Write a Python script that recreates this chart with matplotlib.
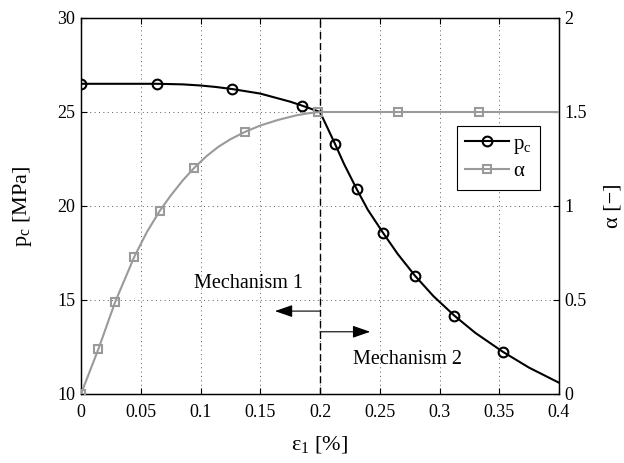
import matplotlib
matplotlib.use("Agg")
import matplotlib.pyplot as plt
from matplotlib.lines import Line2D

plt.rcParams['font.family'] = ['Liberation Serif', 'DejaVu Serif']
plt.rcParams['mathtext.fontset'] = 'custom'
plt.rcParams['mathtext.rm'] = 'Liberation Serif'

# p_c curve
pc_curve_x = [0.0, 0.025, 0.05, 0.064, 0.085, 0.1, 0.113, 0.1266, 0.15, 0.175, 0.185, 0.2,
              0.2063, 0.2126, 0.22, 0.2307, 0.24, 0.253, 0.265, 0.2795, 0.295, 0.3124,
              0.33, 0.3529, 0.375, 0.4]
pc_curve_y = [26.5, 26.5, 26.5, 26.5, 26.47, 26.41, 26.33, 26.22, 25.98, 25.55, 25.34, 25.0,
              24.15, 23.3, 22.25, 20.9, 19.8, 18.55, 17.45, 16.29, 15.2, 14.17,
              13.25, 12.25, 11.4, 10.6]
# p_c markers
pc_mark_x = [0.0, 0.064, 0.1266, 0.185, 0.2126, 0.2307, 0.253, 0.2795, 0.3124, 0.3529]
pc_mark_y = [26.5, 26.5, 26.22, 25.34, 23.31, 20.90, 18.55, 16.29, 14.17, 12.25]

# alpha curve
al_curve_x = [0.0, 0.0145, 0.0285, 0.0446, 0.055, 0.0658, 0.075, 0.085, 0.0946, 0.105,
              0.115, 0.125, 0.1375, 0.15, 0.165, 0.18, 0.19, 0.2, 0.265, 0.333, 0.4]
al_curve_y = [0.0, 0.238, 0.488, 0.730, 0.86, 0.973, 1.055, 1.135, 1.202, 1.265,
              1.315, 1.355, 1.395, 1.428, 1.458, 1.482, 1.493, 1.5, 1.5, 1.5, 1.5]
# alpha markers
al_mark_x = [0.0, 0.0145, 0.0285, 0.0446, 0.0658, 0.0946, 0.1375, 0.1986, 0.265, 0.333]
al_mark_y = [0.0, 0.238, 0.488, 0.730, 0.973, 1.202, 1.395, 1.498, 1.5, 1.5]

x_ticks = [0, 0.05, 0.1, 0.15, 0.2, 0.25, 0.3, 0.35, 0.4]
x_ticklabels = ['0', '0.05', '0.1', '0.15', '0.2', '0.25', '0.3', '0.35', '0.4']
yl_ticks = [10, 15, 20, 25, 30]
yr_ticks = [0, 0.5, 1, 1.5, 2]
yr_ticklabels = ['0', '0.5', '1', '1.5', '2']

GRAY = '#9a9a9a'

fig = plt.figure(figsize=(6.24, 4.63), dpi=100)
ax = fig.add_axes([81/624, 1-394/463, (559-81)/624, (394-18)/463])
ax2 = ax.twinx()

ax.set_xlim(0, 0.4)
ax.set_ylim(10, 30)
ax2.set_ylim(0, 2)

ax.set_xticks(x_ticks)
ax.set_xticklabels(x_ticklabels)
ax.set_yticks(yl_ticks)
ax2.set_yticks(yr_ticks)
ax2.set_yticklabels(yr_ticklabels)

ax.grid(True, linestyle=(0, (1, 3.5)), color='0.35', linewidth=0.7)
ax.tick_params(axis='both', direction='in', length=4, width=0.8, labelsize=13,
               top=True, right=False, pad=4)
ax.tick_params(axis='x', pad=7)
ax2.tick_params(axis='y', direction='in', length=4, width=0.8, labelsize=13, pad=4)
for a in (ax, ax2):
    for s in a.spines.values():
        s.set_linewidth(0.9)

# dashed vertical line
ax.axvline(0.2, color='k', linestyle=(0, (5, 3)), linewidth=1.0, zorder=2)

# p_c
ax.plot(pc_curve_x, pc_curve_y, color='k', lw=1.5, zorder=3)
ax.plot(pc_mark_x, pc_mark_y, ls='none', marker='o', ms=7, mfc='none',
        mec='k', mew=1.5, zorder=4)

# alpha
ax2.plot(al_curve_x, al_curve_y, color=GRAY, lw=1.5, zorder=3)
ax2.plot(al_mark_x, al_mark_y, ls='none', marker='s', ms=5.5, mfc='none',
         mec=GRAY, mew=1.5, zorder=4)

# annotations
ap = dict(arrowstyle='-|>,head_length=0.72,head_width=0.25', color='k', lw=0.8,
          mutation_scale=15, shrinkA=0, shrinkB=0)
ax.annotate('', xy=(0.1623, 14.41), xytext=(0.2, 14.41), arrowprops=ap)
ax.annotate('', xy=(0.242, 13.31), xytext=(0.2, 13.31), arrowprops=ap)
ax.text(0.14, 15.9, 'Mechanism 1', fontsize=14.5, ha='center', va='center')
ax.text(0.2736, 11.86, 'Mechanism 2', fontsize=14.5, ha='center', va='center')

ax.set_xlabel('ε$_\\mathregular{1}$ [%]', fontsize=16, labelpad=10)
ax.set_ylabel('p$_\\mathregular{c}$ [MPa]', fontsize=16, labelpad=17)
ax2.set_ylabel('α [−]', fontsize=16, labelpad=12)

h1 = Line2D([], [], color='k', lw=1.5, marker='o', ms=7, mfc='none', mec='k', mew=1.5)
h2 = Line2D([], [], color=GRAY, lw=1.5, marker='s', ms=5.5, mfc='none', mec=GRAY, mew=1.5)
leg = ax2.legend([h1, h2], ['p$_\\mathregular{c}$', 'α'], loc='upper right',
                 bbox_to_anchor=(0.960, 0.7136), borderaxespad=0, fontsize=15,
                 handlelength=2.1, handletextpad=0.2, fancybox=False,
                 framealpha=1, edgecolor='k', borderpad=0.4, labelspacing=0.3)
leg.get_frame().set_linewidth(0.8)

fig.savefig('out.png', dpi=100)
